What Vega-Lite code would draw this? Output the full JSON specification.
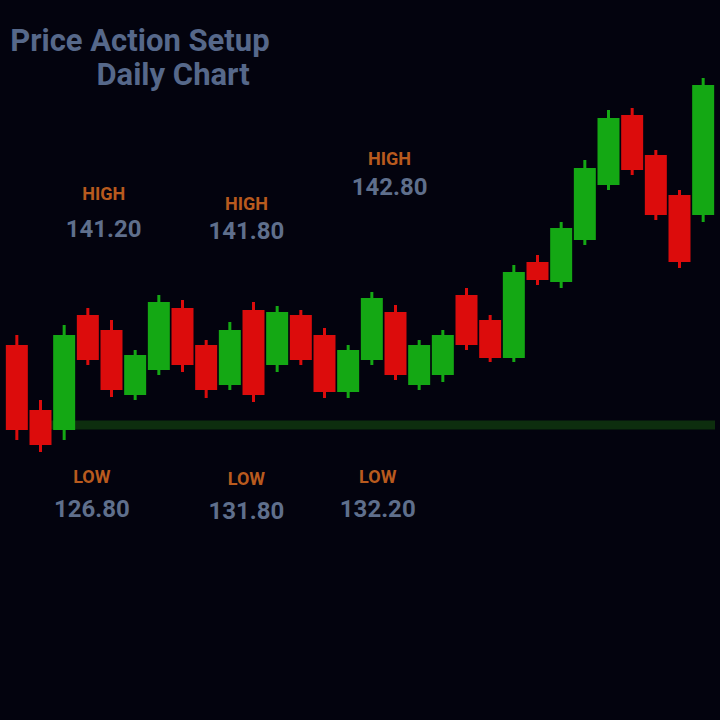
{
  "$schema": "https://vega.github.io/schema/vega-lite/v6.json",
  "width": 720,
  "height": 720,
  "autosize": {"type": "fit", "contains": "padding"},
  "padding": 0,
  "background": "#03030e",
  "config": {"view": {"stroke": null}},
  "datasets": {
    "candles": [
      {"i": 0, "open": 137.5, "close": 129.0, "high": 138.5, "low": 128.0},
      {"i": 1, "open": 131.0, "close": 127.5, "high": 132.0, "low": 126.8},
      {"i": 2, "open": 129.0, "close": 138.5, "high": 139.5, "low": 128.0},
      {"i": 3, "open": 140.5, "close": 136.0, "high": 141.2, "low": 135.5},
      {"i": 4, "open": 139.0, "close": 133.0, "high": 140.0, "low": 132.3},
      {"i": 5, "open": 132.5, "close": 136.5, "high": 137.0, "low": 132.0},
      {"i": 6, "open": 135.0, "close": 141.8, "high": 142.5, "low": 134.5},
      {"i": 7, "open": 141.2, "close": 135.5, "high": 142.0, "low": 134.8},
      {"i": 8, "open": 137.5, "close": 133.0, "high": 138.0, "low": 132.2},
      {"i": 9, "open": 133.5, "close": 139.0, "high": 139.8, "low": 133.0},
      {"i": 10, "open": 141.0, "close": 132.5, "high": 141.8, "low": 131.8},
      {"i": 11, "open": 135.5, "close": 140.8, "high": 141.4, "low": 134.8},
      {"i": 12, "open": 140.5, "close": 136.0, "high": 141.0, "low": 135.5},
      {"i": 13, "open": 138.5, "close": 132.8, "high": 139.2, "low": 132.2},
      {"i": 14, "open": 132.8, "close": 137.0, "high": 137.5, "low": 132.2},
      {"i": 15, "open": 136.0, "close": 142.2, "high": 142.8, "low": 135.5},
      {"i": 16, "open": 140.8, "close": 134.5, "high": 141.5, "low": 134.0},
      {"i": 17, "open": 133.5, "close": 137.5, "high": 138.0, "low": 133.0},
      {"i": 18, "open": 134.5, "close": 138.5, "high": 139.0, "low": 133.8},
      {"i": 19, "open": 142.5, "close": 137.5, "high": 143.2, "low": 137.0},
      {"i": 20, "open": 140.0, "close": 136.2, "high": 140.5, "low": 135.8},
      {"i": 21, "open": 136.2, "close": 144.8, "high": 145.5, "low": 135.8},
      {"i": 22, "open": 145.8, "close": 144.0, "high": 146.5, "low": 143.5},
      {"i": 23, "open": 143.8, "close": 149.2, "high": 149.8, "low": 143.2},
      {"i": 24, "open": 148.0, "close": 155.2, "high": 156.0, "low": 147.5},
      {"i": 25, "open": 153.5, "close": 160.2, "high": 161.0, "low": 153.0},
      {"i": 26, "open": 160.5, "close": 155.0, "high": 161.2, "low": 154.5},
      {"i": 27, "open": 156.5, "close": 150.5, "high": 157.0, "low": 150.0},
      {"i": 28, "open": 152.5, "close": 145.8, "high": 153.0, "low": 145.2},
      {"i": 29, "open": 150.5, "close": 163.5, "high": 164.2, "low": 149.8}
    ],
    "support": [{"start": 1.2, "end": 29.5, "level": 129.5}],
    "titles": [
      {"i": 5.2, "p": 167.8, "text": "Price Action Setup"},
      {"i": 6.6, "p": 164.4, "text": "Daily Chart"}
    ],
    "tags": [
      {"i": 3.67, "p": 152.5, "text": "HIGH"},
      {"i": 9.7, "p": 151.5, "text": "HIGH"},
      {"i": 15.75, "p": 156.0, "text": "HIGH"},
      {"i": 3.17, "p": 124.2, "text": "LOW"},
      {"i": 9.7, "p": 124.0, "text": "LOW"},
      {"i": 15.25, "p": 124.2, "text": "LOW"}
    ],
    "values": [
      {"i": 3.67, "p": 149.0, "text": "141.20"},
      {"i": 9.7, "p": 148.8, "text": "141.80"},
      {"i": 15.75, "p": 153.2, "text": "142.80"},
      {"i": 3.17, "p": 121.0, "text": "126.80"},
      {"i": 9.7, "p": 120.8, "text": "131.80"},
      {"i": 15.25, "p": 121.0, "text": "132.20"}
    ]
  },
  "layer": [
    {
      "data": {"name": "support"},
      "mark": {"type": "rule", "color": "#0e330e", "strokeWidth": 9, "opacity": 0.9},
      "encoding": {
        "x": {"field": "start", "type": "quantitative", "scale": {"domain": [-0.5, 29.5]}, "axis": null},
        "x2": {"field": "end"},
        "y": {"field": "level", "type": "quantitative", "scale": {"domain": [100, 172]}, "axis": null}
      }
    },
    {
      "data": {"name": "candles"},
      "mark": {"type": "rule", "strokeWidth": 3},
      "encoding": {
        "x": {"field": "i", "type": "quantitative", "scale": {"domain": [-0.5, 29.5]}, "axis": null},
        "y": {"field": "low", "type": "quantitative", "scale": {"domain": [100, 172]}, "axis": null},
        "y2": {"field": "high"},
        "color": {
          "condition": {"test": "datum.close >= datum.open", "value": "#14a814"},
          "value": "#dc0c0c"
        }
      }
    },
    {
      "data": {"name": "candles"},
      "mark": {"type": "bar", "size": 22},
      "encoding": {
        "x": {"field": "i", "type": "quantitative", "scale": {"domain": [-0.5, 29.5]}, "axis": null},
        "y": {"field": "open", "type": "quantitative", "scale": {"domain": [100, 172]}, "axis": null},
        "y2": {"field": "close"},
        "color": {
          "condition": {"test": "datum.close >= datum.open", "value": "#14a814"},
          "value": "#dc0c0c"
        }
      }
    },
    {
      "data": {"name": "titles"},
      "mark": {"type": "text", "fontSize": 31, "fontWeight": "bold", "font": "Roboto", "color": "#56688a", "align": "center", "baseline": "middle"},
      "encoding": {
        "x": {"field": "i", "type": "quantitative", "scale": {"domain": [-0.5, 29.5]}, "axis": null},
        "y": {"field": "p", "type": "quantitative", "scale": {"domain": [100, 172]}, "axis": null},
        "text": {"field": "text"}
      }
    },
    {
      "data": {"name": "tags"},
      "mark": {"type": "text", "fontSize": 18, "fontWeight": "bold", "font": "Roboto", "color": "#b85a1e", "align": "center", "baseline": "middle"},
      "encoding": {
        "x": {"field": "i", "type": "quantitative", "scale": {"domain": [-0.5, 29.5]}, "axis": null},
        "y": {"field": "p", "type": "quantitative", "scale": {"domain": [100, 172]}, "axis": null},
        "text": {"field": "text"}
      }
    },
    {
      "data": {"name": "values"},
      "mark": {"type": "text", "fontSize": 24, "fontWeight": "bold", "font": "Roboto", "color": "#5f6f8c", "align": "center", "baseline": "middle"},
      "encoding": {
        "x": {"field": "i", "type": "quantitative", "scale": {"domain": [-0.5, 29.5]}, "axis": null},
        "y": {"field": "p", "type": "quantitative", "scale": {"domain": [100, 172]}, "axis": null},
        "text": {"field": "text"}
      }
    }
  ]
}
